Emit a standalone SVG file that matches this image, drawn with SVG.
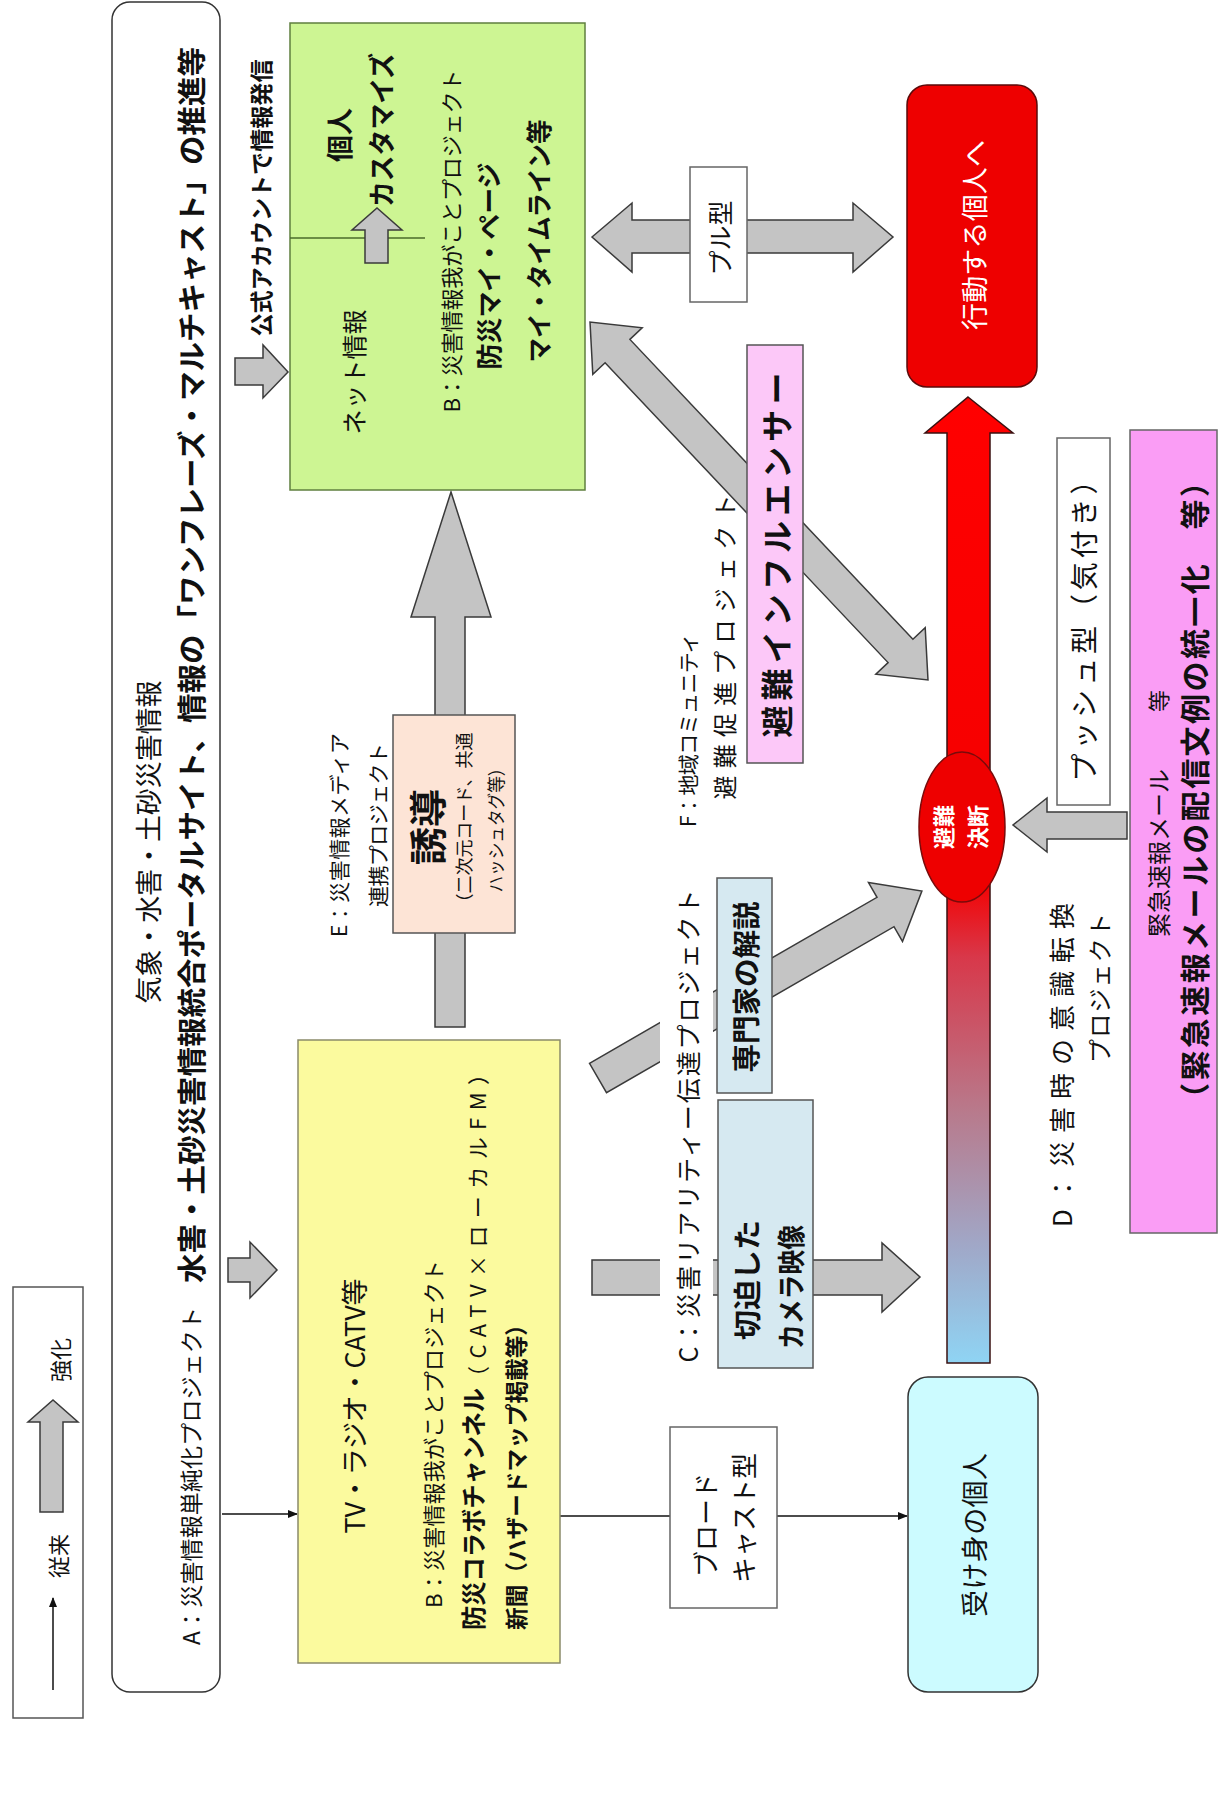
<svg xmlns="http://www.w3.org/2000/svg" width="1220" height="1812" viewBox="0 0 1220 1812">
<defs>
<style>
.t{font-family:"Noto Sans CJK JP","Noto Sans",sans-serif;fill:#111;dominant-baseline:central}
.m{text-anchor:middle}
.s{text-anchor:start}
.b{font-weight:bold}
.w{fill:#fff}
.ba{fill:#c4c4c4;stroke:#3a3a3a;stroke-width:1.5;stroke-linejoin:miter}
.ln{stroke:#111;stroke-width:1.5;fill:none}
.box{stroke:#555;stroke-width:1.5}
</style>
<marker id="ah" markerWidth="10" markerHeight="8" refX="9" refY="4" orient="auto" markerUnits="userSpaceOnUse"><path d="M0,0 L10,4 L0,8 z" fill="#111"/></marker>
<linearGradient id="bar" gradientUnits="userSpaceOnUse" x1="0" y1="397" x2="0" y2="1363">
<stop offset="0" stop-color="#ff0000"/>
<stop offset="0.5" stop-color="#f40000"/>
<stop offset="0.58" stop-color="#d8384a"/>
<stop offset="0.74" stop-color="#b87a8c"/>
<stop offset="0.88" stop-color="#a0a8c8"/>
<stop offset="1" stop-color="#8fd4f4"/>
</linearGradient>
</defs>
<rect x="0" y="0" width="1220" height="1812" fill="#fff"/>

<g id="connectors">
<line class="ln" x1="53" y1="1690" x2="53" y2="1598" marker-end="url(#ah)"/>
<polygon class="ba" points="40,1512 40,1422 28,1422 53,1400 78,1422 63,1422 63,1512"/>
<polygon class="ba" points="235,358 263,358 263,345 288,372 263,398 263,385 235,385"/>
<polygon class="ba" points="228,1258 250,1258 250,1242 277,1270 250,1298 250,1282 228,1282"/>
<line class="ln" x1="222" y1="1514" x2="297" y2="1514" marker-end="url(#ah)"/>
<polygon class="ba" points="435,1027 435,617 411,617 451,492 491,617 465,617 465,1027"/>
<polygon class="ba" points="592,237 632,203 632,220 853,220 853,203 893,237 853,272 853,253 632,253 632,272"/>
<polygon class="ba" points="590,322 592.8,374.4 605.1,362.8 888.1,662.6 875.8,674.2 928,680 925.2,627.6 912.9,639.2 629.9,339.4 642.2,327.8"/>
<polygon class="ba" points="589.5,1063.3 877,897.3 868.5,882.6 921.9,891 902.5,941.4 894,926.7 606.5,1092.7"/>
<polygon class="ba" points="592,1260 882,1260 882,1243 920,1277 882,1312 882,1295 592,1295"/>
<polygon class="ba" points="1127,812 1047,812 1047,798 1013,825 1047,852 1047,839 1127,839"/>
<line class="ln" x1="560" y1="1516" x2="907" y2="1516" marker-end="url(#ah)"/>
<polygon points="968,397 1013,433 990,433 990,1363 947,1363 947,433 925,433" fill="url(#bar)" stroke="#3a1010" stroke-width="1.5"/>
</g>

<g id="legend">
<rect x="13" y="1287" width="70" height="431" fill="none" stroke="#555" stroke-width="1.5"/>
<text class="t m" x="57" y="1556" font-size="22" transform="rotate(-90 57 1556)">従来</text>
<text class="t m" x="59" y="1360" font-size="22" transform="rotate(-90 59 1360)">強化</text>
</g>

<g id="nodeA">
<rect x="112" y="2" width="108" height="1690" rx="18" fill="#fff" stroke="#333" stroke-width="1.5"/>
<text class="t m" x="147" y="842" font-size="27" textLength="323" transform="rotate(-90 147 842)">気象・水害・土砂災害情報</text>
<text class="t s" x="190" y="1645" font-size="23" textLength="338" transform="rotate(-90 190 1645)">A：災害情報単純化プロジェクト</text>
<text class="t s b" x="190" y="1283" font-size="29" textLength="1236" lengthAdjust="spacingAndGlyphs" transform="rotate(-90 190 1283)">水害・土砂災害情報統合ポータルサイト、情報の「ワンフレーズ・マルチキャスト」の推進等</text>
</g>

<g id="label-official">
<text class="t m b" x="260" y="198" font-size="23" textLength="277" lengthAdjust="spacingAndGlyphs" transform="rotate(-90 260 198)">公式アカウントで情報発信</text>
</g>

<g id="nodeNet">
<rect x="290" y="23" width="295" height="467" fill="#cdf593" stroke="#5f7f3f" stroke-width="1.5"/>
<line x1="290" y1="238" x2="425" y2="238" stroke="#4a6a2a" stroke-width="1.5"/>
<text class="t m" x="353" y="372" font-size="25" transform="rotate(-90 353 372)">ネット情報</text>
<polygon class="ba" points="365,263 365,230 352,230 377,208 402,230 388,230 388,263"/>
<text class="t m b" x="338" y="135" font-size="27" transform="rotate(-90 338 135)">個人</text>
<text class="t m b" x="380" y="130" font-size="27" textLength="154" lengthAdjust="spacingAndGlyphs" transform="rotate(-90 380 130)">カスタマイズ</text>
<text class="t m" x="450" y="241" font-size="22" textLength="343" transform="rotate(-90 450 241)">B：災害情報我がことプロジェクト</text>
<text class="t m b" x="487" y="266" font-size="26" textLength="207" lengthAdjust="spacingAndGlyphs" transform="rotate(-90 487 266)">防災マイ・ページ</text>
<text class="t m b" x="537" y="241" font-size="26" textLength="243" lengthAdjust="spacingAndGlyphs" transform="rotate(-90 537 241)">マイ・タイムライン等</text>
</g>

<g id="nodeTV">
<rect x="298" y="1040" width="262" height="623" fill="#fbfa9e" stroke="#8a8a6a" stroke-width="1.5"/>
<text class="t m" x="353" y="1406" font-size="27" textLength="255" transform="rotate(-90 353 1406)">TV・ラジオ・CATV等</text>
<text class="t m" x="432" y="1434" font-size="22" textLength="348" transform="rotate(-90 432 1434)">B：災害情報我がことプロジェクト</text>
<text class="t s b" x="472" y="1630" font-size="25" textLength="242" lengthAdjust="spacingAndGlyphs" transform="rotate(-90 472 1630)">防災コラボチャンネル</text>
<text class="t s" x="476" y="1388" font-size="22" textLength="325" transform="rotate(-90 476 1388)">（CATV×ローカルFM）</text>
<text class="t s b" x="515" y="1630" font-size="23" textLength="317" lengthAdjust="spacingAndGlyphs" transform="rotate(-90 515 1630)">新聞（ハザードマップ掲載等）</text>
</g>

<g id="nodeE">
<text class="t m" x="338" y="835" font-size="21" textLength="204" transform="rotate(-90 338 835)">E：災害情報メディア</text>
<text class="t m" x="377" y="825" font-size="21" textLength="164" transform="rotate(-90 377 825)">連携プロジェクト</text>
<rect x="393" y="715" width="122" height="218" fill="#fde4d6" class="box"/>
<text class="t m b" x="425" y="827" font-size="38" transform="rotate(-90 425 827)">誘導</text>
<text class="t m" x="463" y="822" font-size="18" textLength="179" transform="rotate(-90 463 822)">（二次元コード、共通</text>
<text class="t m" x="495" y="826" font-size="18" textLength="133" lengthAdjust="spacingAndGlyphs" transform="rotate(-90 495 826)">ハッシュタグ等）</text>
</g>

<g id="nodePull">
<rect x="690" y="167" width="57" height="135" fill="#fff" stroke="#666" stroke-width="1.5"/>
<text class="t m" x="719" y="238" font-size="25" transform="rotate(-90 719 238)">プル型</text>
</g>

<g id="nodeF">
<text class="t m" x="687" y="730" font-size="21" textLength="194" transform="rotate(-90 687 730)">F：地域コミュニティ</text>
<text class="t m" x="723" y="647" font-size="24" textLength="305" transform="rotate(-90 723 647)">避難促進プロジェクト</text>
<rect x="747" y="345" width="56" height="418" fill="#fcc8f8" class="box"/>
<text class="t m b" x="775" y="555" font-size="32" textLength="365" transform="rotate(-90 775 555)">避難インフルエンサー</text>
</g>

<g id="nodeC">
<rect x="660" y="885" width="53" height="484" fill="#fff"/>
<text class="t m" x="687" y="1126" font-size="25" textLength="473" transform="rotate(-90 687 1126)">C：災害リアリティー伝達プロジェクト</text>
<rect x="717" y="878" width="55" height="215" fill="#d6e9f1" class="box"/>
<text class="t m b" x="745" y="987" font-size="28" textLength="171" lengthAdjust="spacingAndGlyphs" transform="rotate(-90 745 987)">専門家の解説</text>
<rect x="718" y="1100" width="95" height="268" fill="#d6e9f1" class="box"/>
<text class="t m b" x="746" y="1280" font-size="28" textLength="120" lengthAdjust="spacingAndGlyphs" transform="rotate(-90 746 1280)">切迫した</text>
<text class="t m b" x="790" y="1287" font-size="28" textLength="124" lengthAdjust="spacingAndGlyphs" transform="rotate(-90 790 1287)">カメラ映像</text>
</g>

<g id="nodeBroadcast">
<rect x="670" y="1427" width="107" height="181" fill="#fff" stroke="#666" stroke-width="1.5"/>
<text class="t m" x="704" y="1525" font-size="26" transform="rotate(-90 704 1525)">ブロード</text>
<text class="t m" x="742" y="1518" font-size="26" transform="rotate(-90 742 1518)">キャスト型</text>
</g>

<g id="nodeAct">
<rect x="907" y="85" width="130" height="302" rx="20" fill="#ee0000" stroke="#5a0a0a" stroke-width="1.5"/>
<text class="t m w" x="973" y="235" font-size="27" textLength="190" transform="rotate(-90 973 235)">行動する個人へ</text>
</g>

<g id="nodeDecision">
<ellipse cx="962" cy="827" rx="43" ry="75" fill="#ee0000" stroke="#7a0a0a" stroke-width="1.5"/>
<text class="t m b w" x="942" y="827" font-size="22" transform="rotate(-90 942 827)">避難</text>
<text class="t m b w" x="976" y="827" font-size="22" transform="rotate(-90 976 827)">決断</text>
</g>

<g id="nodePassive">
<rect x="908" y="1377" width="130" height="315" rx="20" fill="#ccfbff" stroke="#333" stroke-width="1.5"/>
<text class="t m" x="973" y="1535" font-size="27" textLength="164" transform="rotate(-90 973 1535)">受け身の個人</text>
</g>

<g id="nodePush">
<rect x="1057" y="438" width="53" height="367" fill="#fff" stroke="#666" stroke-width="1.5"/>
<text class="t m" x="1083" y="624" font-size="28" textLength="315" transform="rotate(-90 1083 624)">プッシュ型（気付き）</text>
</g>

<g id="nodeD">
<text class="t m" x="1060" y="1065" font-size="26" textLength="324" transform="rotate(-90 1060 1065)">D：災害時の意識転換</text>
<text class="t m" x="1098" y="988" font-size="24" textLength="150" transform="rotate(-90 1098 988)">プロジェクト</text>
<rect x="1130" y="430" width="87" height="803" fill="#fa9df5" stroke="#666" stroke-width="1.5"/>
<text class="t s" x="1157" y="937" font-size="24" transform="rotate(-90 1157 937)">緊急速報メール</text>
<text class="t m" x="1157" y="701" font-size="22" transform="rotate(-90 1157 701)">等</text>
<text class="t m b" x="1193" y="790" font-size="30" textLength="646" transform="rotate(-90 1193 790)">（緊急速報メールの配信文例の統一化　等）</text>
</g>
</svg>
